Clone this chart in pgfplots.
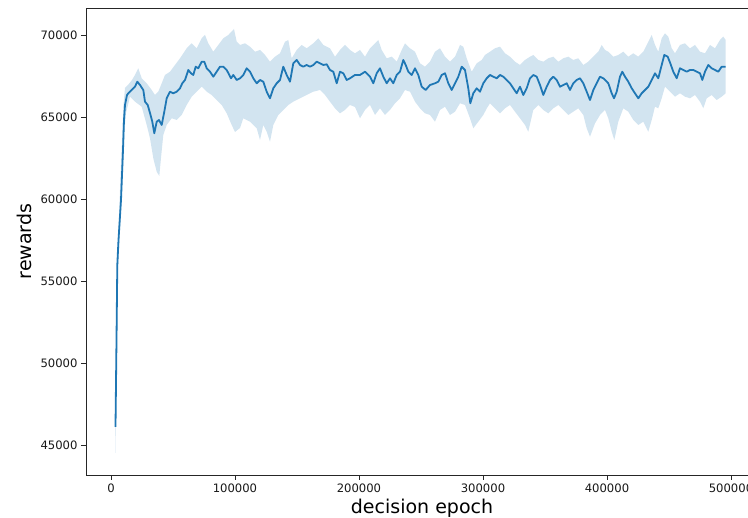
\documentclass[border=0pt]{standalone}
\usepackage{fontspec}
\setmainfont{DejaVu Sans}
\usepackage{pgfplots}
\pgfplotsset{compat=1.18}
\usepgfplotslibrary{fillbetween}
\definecolor{tabblue}{HTML}{1F77B4}

\begin{document}
\begin{tikzpicture}
\begin{axis}[
  name=ax,
  scale only axis,
  width=672pt, height=467pt,
  xmin=-20161, xmax=521774,
  ymin=43170, ymax=71646,
  xtick={0,100000,200000,300000,400000,500000},
  ytick={45000,50000,55000,60000,65000,70000},
  scaled ticks=false,
  /pgf/number format/.cd, fixed, precision=0, 1000 sep={}, assume math mode=true,
  /pgfplots/.cd,
  tick align=outside,
  xtick pos=left, ytick pos=left,
  major tick length=5pt,
  tick style={black!85, line width=0.9pt},
  axis line style={black!85, line width=0.9pt},
  tick label style={font=\fontsize{11.6}{13}\selectfont, text=black!90},
  xlabel={decision epoch}, ylabel={rewards},
  label style={font=\fontsize{19}{22}\selectfont, inner sep=0pt},
  xlabel style={at={(axis description cs:0.5,-0.0835)}, anchor=base},
  ylabel style={at={(axis description cs:-0.0804,0.5)}, anchor=base},
]
% upper edge of the band
\addplot[name path=up, draw=none, forget plot] coordinates {
(3629,46524)(4435,52012)(5242,56585)(7258,60549)(8871,63598)(10081,65732)
(11290,66768)(13710,66951)(16935,67256)(19355,67561)(22016,67969)(24758,67360)
(28790,67055)(32823,66646)(35484,66341)(38145,66542)(40887,67055)(43548,67561)
(47581,67762)(51613,68171)(55645,68579)(61048,69189)(65081,69494)(69113,69189)
(73145,69799)(75806,70000)(78468,69494)(82500,68982)(86532,69390)(90565,69799)
(94597,70000)(99194,70366)(101371,69591)(104032,69390)(108065,69494)(112097,69287)
(116129,68982)(120161,69085)(124194,68781)(128226,68372)(132258,68677)(136290,68884)
(140323,69591)(142984,69695)(145726,68579)(149758,69085)(153790,69390)(157823,69189)
(163145,69494)(167177,69799)(171210,69390)(176613,69189)(180645,68677)(184677,69085)
(188710,69390)(192742,69085)(196774,68884)(200806,69085)(204839,68677)(208871,69189)
(212903,69494)(215565,69695)(218306,69085)(222339,68579)(226371,68677)(230403,68372)
(234435,69085)(237097,69494)(241129,69189)(245161,68982)(249194,68274)(253226,68067)
(257258,68372)(261290,68982)(265323,69189)(269355,68677)(273387,68372)(277419,68677)
(281452,69390)(284113,69287)(286855,68579)(290887,67762)(294919,68274)(298952,68476)
(301613,68781)(305645,68982)(309677,69189)(313710,69287)(317742,68884)(321774,68677)
(325806,68372)(329839,68171)(333871,68476)(337903,68677)(340565,68781)(344597,68476)
(348629,68372)(352661,68579)(356694,68677)(360726,68372)(364758,68579)(368790,68677)
(372823,68476)(376855,68579)(380887,68171)(384919,68372)(388952,68677)(392984,68982)
(395726,69390)(398387,69085)(401048,68982)(405081,68677)(409113,68781)(413145,68982)
(417177,68677)(421210,68884)(425242,68677)(429274,68982)(433306,69591)(436048,70000)
(438710,69390)(441371,68982)(444113,69799)(446774,70104)(449435,69896)(452177,69189)
(454839,68884)(458871,69390)(462903,69494)(466935,69189)(470968,69390)(475000,68982)
(479032,68884)(483065,69390)(487097,69189)(491129,69695)(493790,69896)(495726,69695)
};
% lower edge of the band
\addplot[name path=lo, draw=none, forget plot] coordinates {
(3629,44512)(4839,50793)(5645,55670)(8065,59329)(9677,61768)(10887,64207)
(12097,65244)(15323,66238)(19355,65933)(24758,65628)(28790,64512)(31452,63701)
(34113,62481)(36855,61665)(38952,61402)(40323,62500)(42177,63902)(44919,64512)
(48952,64921)(52984,64817)(57016,65122)(61048,65732)(65081,66238)(69113,66542)
(73145,66847)(77177,66542)(81210,66341)(85242,66037)(89274,65732)(93306,65225)
(97339,64512)(100000,64085)(104032,64329)(106694,64921)(112097,64713)(117500,64311)
(120161,63598)(122823,64512)(125565,64104)(128226,63494)(130887,64512)(134919,65122)
(138952,65427)(142984,65732)(147016,65933)(152419,66140)(157823,66341)(163145,66542)
(168548,66646)(172581,66341)(176613,65933)(180645,65530)(184677,65225)(188710,65427)
(192742,65732)(196774,65610)(200806,64921)(204839,65427)(208871,65732)(212903,65122)
(216935,65530)(220968,65122)(225000,65427)(229032,65835)(233065,66140)(237097,66646)
(241129,66542)(245161,65933)(249194,65530)(253226,65225)(257258,65122)(261290,64713)
(265323,65427)(269355,65628)(273387,65122)(277419,65323)(281452,65835)(285484,65732)
(289516,64921)(292177,64311)(296210,64713)(300242,65122)(303226,65549)(305645,65835)
(309677,65530)(313710,65225)(317742,65530)(321774,65732)(325806,65323)(329839,64921)
(333871,64512)(336532,64104)(340565,65427)(344597,65732)(348629,65427)(352661,65225)
(356694,65530)(360726,65732)(364758,65427)(368790,65122)(372823,65323)(376855,65530)
(380887,65122)(383629,64311)(386290,63799)(390323,64610)(394355,65122)(398387,65427)
(401048,64921)(403790,64104)(405887,63598)(409113,64713)(413145,65530)(417177,65323)
(421210,64817)(425242,64512)(429274,64713)(433306,64104)(436048,64817)(438710,65628)
(441371,65530)(444113,66140)(446774,66847)(450806,66542)(454839,66238)(458871,66445)
(462903,66238)(466935,66140)(470968,66341)(475000,65933)(477661,65530)(480403,66140)
(484435,66341)(488468,66037)(492500,66238)(495726,66445)
};
\addplot[fill=tabblue, fill opacity=0.2, draw=none, forget plot] fill between[of=up and lo];
% mean
\addplot[tabblue, line width=1.8pt, line join=round] coordinates {
(3629,46097)(4435,51402)(5081,55975)(6048,57500)(8065,59939)(9677,62988)
(10484,64817)(11290,65732)(12903,66341)(13952,66445)(16694,66646)(19355,66847)
(21210,67152)(23387,66951)(26048,66646)(27419,65933)(29597,65732)(31452,65244)
(33306,64713)(34919,64006)(36855,64713)(38710,64817)(40887,64512)(42984,65323)
(44919,66140)(47581,66542)(50242,66445)(52984,66542)(55645,66750)(57500,67055)
(59677,67256)(62339,67866)(64516,67664)(66371,67561)(68306,68067)(70403,67969)
(73145,68372)(75242,68372)(77177,67969)(79839,67762)(82500,67457)(85242,67762)
(87903,68067)(90565,68067)(93306,67866)(96774,67360)(98629,67561)(101371,67256)
(104032,67360)(106694,67561)(109435,67969)(112097,67762)(114758,67360)(117500,67055)
(120161,67256)(122823,67152)(125565,66542)(128226,66140)(130887,66750)(133629,67055)
(136290,67256)(138952,68067)(141694,67561)(144355,67152)(147016,68274)(149758,68476)
(152419,68171)(155081,68067)(157823,68171)(160484,68067)(163145,68171)(165887,68372)
(168548,68274)(171210,68171)(173952,68213)(176613,67866)(179274,67762)(182016,67055)
(184677,67762)(187339,67664)(190081,67256)(192742,67360)(196774,67561)(200806,67561)
(204839,67762)(208871,67457)(211532,67055)(214274,67664)(216935,67969)(219597,67457)
(222339,67055)(225000,67360)(227661,67055)(230403,67561)(233065,67762)(235726,68476)
(237661,68171)(239758,67762)(242500,67561)(245161,67969)(247823,67561)(250565,66847)
(253790,66646)(257258,66951)(261290,67055)(263952,67152)(266694,67561)(269355,67664)
(272016,67055)(274758,66646)(277419,67055)(280081,67457)(282823,68067)(285484,67866)
(288145,66750)(289758,65835)(292177,66445)(294919,66750)(297581,66542)(300242,67055)
(302984,67360)(305645,67561)(308306,67457)(311048,67360)(313710,67561)(316371,67457)
(319113,67256)(321774,67055)(324435,66750)(327177,66445)(329839,66847)(332500,66341)
(335242,66750)(337903,67360)(340565,67561)(343306,67457)(345968,66951)(348629,66341)
(351371,66847)(354032,67256)(356694,67457)(359435,67256)(362097,66847)(364758,66951)
(367500,67055)(370161,66646)(372823,67055)(375565,67256)(378226,67360)(380887,67055)
(383629,66542)(386290,66037)(388952,66646)(391694,67055)(394355,67457)(397016,67360)
(401048,67055)(403790,66445)(405645,66140)(407823,66542)(410484,67457)(412339,67762)
(414516,67457)(417177,67152)(419919,66750)(422581,66445)(425242,66140)(427984,66445)
(430645,66646)(433306,66847)(436048,67256)(438710,67664)(441371,67360)(444113,68171)
(446210,68781)(448952,68677)(451048,68274)(453468,67762)(456210,67360)(458871,67969)
(461532,67866)(464274,67762)(466935,67866)(469597,67866)(472339,67762)(475000,67664)
(476855,67256)(479032,67762)(481694,68171)(484435,67969)(487097,67866)(489758,67762)
(492500,68067)(495726,68067)
};
\end{axis}
\pgfresetboundingbox
\path[use as bounding box] ([shift={(-86pt,-43pt)}]ax.south west) rectangle ([shift={(662pt,475pt)}]ax.south west);
\end{tikzpicture}
\end{document}
